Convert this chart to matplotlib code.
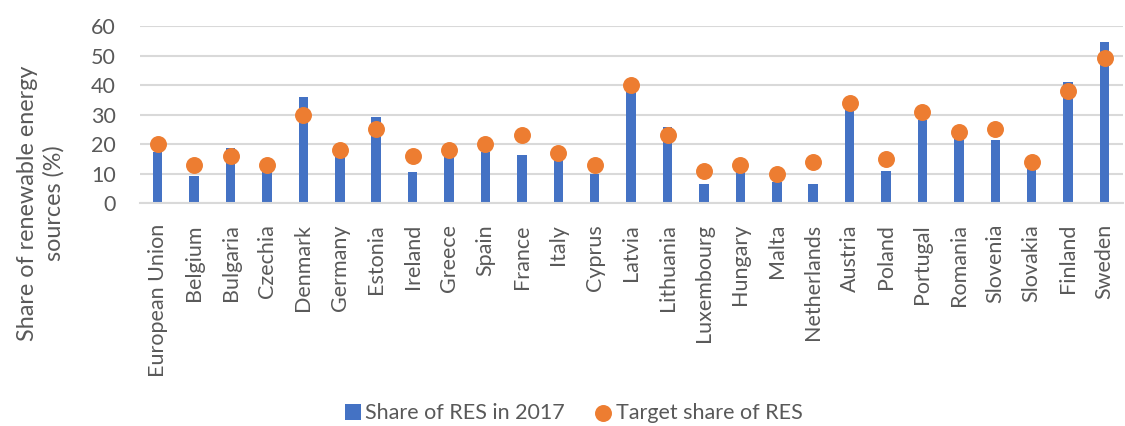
import numpy as np
import matplotlib
matplotlib.use("Agg")
import matplotlib.pyplot as plt

plt.rcParams['font.family'] = ['Lato', 'DejaVu Sans']

countries = ["European Union", "Belgium", "Bulgaria", "Czechia", "Denmark", "Germany",
             "Estonia", "Ireland", "Greece", "Spain", "France", "Italy", "Cyprus",
             "Latvia", "Lithuania", "Luxembourg", "Hungary", "Malta", "Netherlands",
             "Austria", "Poland", "Portugal", "Romania", "Slovenia", "Slovakia",
             "Finland", "Sweden"]
share_2017 = [17.5, 9.1, 18.7, 14.8, 35.8, 15.5, 29.2, 10.7, 17.0, 17.5, 16.3, 18.3, 9.9,
              39.0, 25.8, 6.4, 13.3, 7.2, 6.6, 32.6, 10.9, 28.1, 24.5, 21.5, 11.5,
              41.0, 54.5]
target = [20, 13, 16, 13, 30, 18, 25, 16, 18, 20, 23, 17, 13, 40, 23, 11, 13, 10, 14,
          34, 15, 31, 24, 25, 14, 38, 49]

blue = "#4472C4"
orange = "#ED7D31"
grey = "#595959"

fig = plt.figure(figsize=(11.25, 4.26), dpi=100)
ax = fig.add_axes([0.124, 0.523, 0.874, 0.416])

x = np.arange(len(countries))
bars = ax.bar(x, share_2017, width=0.26, color=blue, zorder=2)
dots = ax.scatter(x, target, s=125, color=orange, zorder=3)

ax.set_ylim(0, 60)
ax.set_xlim(-0.5, len(countries) - 0.5)
ax.set_yticks(range(0, 61, 10))
ax.yaxis.grid(True, color="#D9D9D9", linewidth=1.5, zorder=0)
ax.set_axisbelow(True)
for s in ["top", "right", "left"]:
    ax.spines[s].set_visible(False)
ax.spines["bottom"].set_color("#D9D9D9")
ax.spines["bottom"].set_linewidth(1.5)
ax.tick_params(axis="both", length=0, colors=grey, labelsize=15.5)
ax.tick_params(axis="x", pad=15)
ax.tick_params(axis="y", pad=17)
ax.set_xticks(x)
ax.set_xticklabels(countries, rotation=90)
ax.set_ylabel("Share of renewable energy\nsources (%)", fontsize=16.8, color=grey,
              linespacing=1.3)
ax.yaxis.set_label_coords(-0.076, 0.0)

fig.legend([bars, dots], ["Share of RES in 2017", "Target share of RES"],
           loc="center", ncol=2, frameon=False, fontsize=15.5,
           bbox_to_anchor=(0.51, 0.03), labelcolor=grey, handlelength=0.75,
           handleheight=0.75, handletextpad=0.2, columnspacing=1.4)

fig.savefig("out.png", dpi=100)
